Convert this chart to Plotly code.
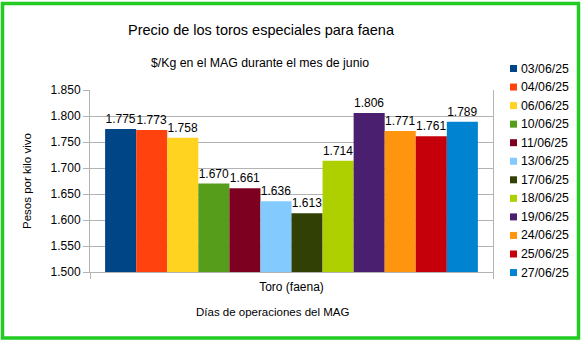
import plotly.graph_objects as go

# ---- data ----
category = ["Toro (faena)"]
dates = ["03/06/25", "04/06/25", "06/06/25", "10/06/25", "11/06/25", "13/06/25",
         "17/06/25", "18/06/25", "19/06/25", "24/06/25", "25/06/25", "27/06/25"]
prices = [1775, 1773, 1758, 1670, 1661, 1636, 1613, 1714, 1806, 1771, 1761, 1789]
colors = ["#004586", "#ff420e", "#ffd320", "#579d1c", "#7e0021", "#83caff",
          "#314004", "#aecf00", "#4b1f6f", "#ff950e", "#c5000b", "#0084d1"]
y_ticks = [1500, 1550, 1600, 1650, 1700, 1750, 1800, 1850]

W, H = 583, 341
ML, MR, MT, MB = 90, 90, 90, 69
PW = W - ML - MR
PH = H - MT - MB

def px_x(x):
    return (x - ML) / PW

def px_y(y):
    return (H - MB - y) / PH

FONT = "Liberation Sans, Arial, sans-serif"
GRID = "#b3b3b3"

fig = go.Figure()
for d, v, c in zip(dates, prices, colors):
    fig.add_trace(go.Bar(
        x=category, y=[v], name=d, marker=dict(color=c, line=dict(width=0)),
        texttemplate="%{y:,d}", textposition="outside",
        textfont=dict(size=12, color="#000000", family=FONT),
        cliponaxis=False, showlegend=False,
    ))

fig.update_layout(
    width=W, height=H,
    margin=dict(l=ML, r=MR, t=MT, b=MB),
    paper_bgcolor="white", plot_bgcolor="white",
    separators=",.",
    barmode="group", bargap=0.075, bargroupgap=0,
    font=dict(family=FONT, size=12, color="#000000"),
    showlegend=False,
    xaxis=dict(
        type="category", showgrid=False, showline=True, linecolor=GRID, linewidth=1,
        ticks="outside", tickson="boundaries", ticklen=6, tickcolor=GRID,
        tickfont=dict(size=12), zeroline=False, ticklabelstandoff=4,
    ),
    yaxis=dict(
        range=[1500, 1850], tickvals=y_ticks, tickformat=",d",
        showgrid=True, gridcolor=GRID, gridwidth=1,
        showline=True, linecolor=GRID, linewidth=1, mirror=True,
        ticks="outside", ticklen=6, tickcolor=GRID, tickfont=dict(size=12),
        zeroline=False,
    ),
    title=dict(
        text="Precio de los toros especiales para faena",
        x=261 / W, xanchor="center", xref="container",
        y=1 - 30 / H, yanchor="middle", yref="container",
        font=dict(size=14.5, family=FONT, color="#000000"),
    ),
)

fig.add_annotation(
    text="$/Kg en el MAG durante el mes de junio",
    xref="paper", yref="paper", x=px_x(260), y=px_y(63),
    xanchor="center", yanchor="middle", showarrow=False,
    font=dict(size=12.3, family=FONT, color="#000000"),
)
fig.add_annotation(
    text="Pesos por kilo vivo",
    xref="paper", yref="paper", x=px_x(27), y=0.5, textangle=-90,
    xanchor="center", yanchor="middle", showarrow=False,
    font=dict(size=11.5, family=FONT, color="#000000"),
)
fig.add_annotation(
    text="Días de operaciones del MAG",
    xref="paper", yref="paper", x=px_x(272), y=px_y(312),
    xanchor="center", yanchor="middle", showarrow=False,
    font=dict(size=11.5, family=FONT, color="#000000"),
)

# legend (drawn like the spreadsheet legend: small square + label)
LEG_TOP, LEG_STEP = 68.5, 18.55
for i, (d, c) in enumerate(zip(dates, colors)):
    yc = LEG_TOP + i * LEG_STEP
    fig.add_shape(
        type="rect", xref="paper", yref="paper",
        x0=px_x(510), x1=px_x(517), y0=px_y(yc + 3.5), y1=px_y(yc - 3.5),
        line=dict(width=0), fillcolor=c,
    )
    fig.add_annotation(
        text=d, xref="paper", yref="paper", x=px_x(518.5), y=px_y(yc),
        xanchor="left", yanchor="middle", showarrow=False,
        font=dict(size=12.3, family=FONT, color="#000000"),
    )

# green chart border
fig.add_shape(
    type="rect", xref="paper", yref="paper",
    x0=px_x(2.5), x1=px_x(578.5), y0=px_y(338), y1=px_y(3.5),
    line=dict(color="#22cc22", width=3.5), fillcolor="rgba(0,0,0,0)", layer="above",
)

fig.write_html("out.html")
